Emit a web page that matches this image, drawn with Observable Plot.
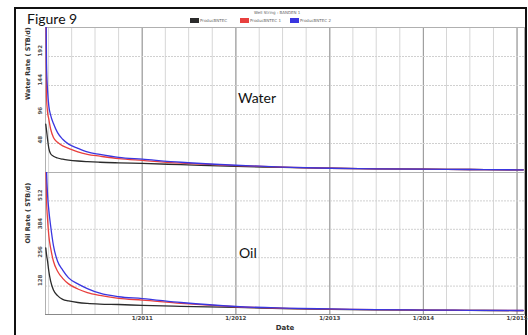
<!DOCTYPE html>
<html>
<head>
<meta charset="utf-8">
<script src="https://cdn.jsdelivr.net/npm/d3@7"></script>
<script src="https://cdn.jsdelivr.net/npm/@observablehq/plot@0.6"></script>
<style>
  html, body { margin: 0; padding: 0; background: #fff; }
  #wrap { position: relative; width: 528px; height: 335px; overflow: hidden; font-family: "DejaVu Sans", sans-serif; }
  #border { position: absolute; left: 14px; top: 7px; width: 509px; height: 340px; border: 2px solid #111; }
  .abs { position: absolute; white-space: nowrap; }
  .panel { position: absolute; left: 0; width: 528px; }
  .panel svg { display: block; }
  .big { font-family: Lato, "Open Sans", sans-serif; font-size: 14px; color: #111; }
  .legend { font-size: 4px; color: #666; }
  .sw { display: inline-block; width: 9px; height: 5px; vertical-align: middle; margin-right: 1px; }
</style>
</head>
<body>
<div id="wrap">
  <div id="border"></div>
  <div id="top" class="panel" style="top:0"></div>
  <div id="bottom" class="panel" style="top:172px"></div>
</div>
<script>
// Simulated decline: report dates and rates for three runs
const dates = ["2009-12-21", "2009-12-24", "2009-12-28", "2010-01-02", "2010-01-09", "2010-01-20",
  "2010-02-05", "2010-02-25", "2010-03-20", "2010-04-25", "2010-06-01", "2010-07-20", "2010-10-01",
  "2011-01-01", "2011-06-01", "2012-01-01", "2012-07-01", "2013-01-01", "2013-07-01", "2014-01-01",
  "2014-07-01", "2015-01-01", "2015-01-25"];

const seriesNames = ["ProducBNTEC", "ProducBNTEC 1", "ProducBNTEC 2"];
const seriesColors = ["#2b2b2b", "#e8403e", "#3a36e0"];

// Water rate (STB/d)
const waterBlack = [80, 70, 55, 40, 31, 27, 24, 22, 20.5, 19, 18, 17, 16, 15, 13, 10, 8.5, 7, 6, 5.5, 5, 4.5, 4.5];
const waterRed   = [300, 125, 100, 88, 72, 58, 50, 44, 40, 34, 30, 27, 23, 20, 15.5, 11.5, 9, 7, 6, 5.5, 5, 4.5, 4.5];
const waterBlue  = [320, 180, 136, 110, 95, 81, 66, 55, 47, 40, 34, 30, 25, 22, 17, 12, 9, 7, 6, 5.5, 5, 4.5, 4.5];

// Oil rate (STB/d)
const oilBlack = [300, 270, 240, 195, 150, 110, 85, 68, 61, 54, 50, 47, 45, 41, 37, 32, 27, 23, 21, 19.5, 18.5, 17.5, 17.5];
const oilRed   = [700, 520, 430, 355, 300, 240, 195, 163, 138, 115, 99, 86, 73, 65, 50, 35, 28, 24, 22, 20, 19, 18, 18];
const oilBlue  = [820, 650, 540, 470, 400, 310, 240, 200, 165, 138, 117, 96, 80, 72, 54, 36, 29, 25, 22, 20, 19, 18, 18];

const waterTicks = [48, 96, 144, 192];
const oilTicks = [128, 256, 384, 512];
const yearTicks = ["2011-01-01", "2012-01-01", "2013-01-01", "2014-01-01", "2015-01-01"];
const xDomain = ["2009-12-20", "2015-01-30"];

const parse = d3.utcParse("%Y-%m-%d");
const xDom = xDomain.map(parse);
const quarterLines = d3.utcMonth.every(3).range(xDom[0], xDom[1]);
const yearLines = yearTicks.map(parse);

const rows = (values) =>
  values.flatMap((vals, i) => vals.map((v, j) => ({date: parse(dates[j]), value: v, series: seriesNames[i]})));

function panel({data, yMax, ticks, label, height, marginTop, marginBottom, showX}) {
  const marks = [
    Plot.ruleX(quarterLines, {x: d => d, stroke: "#d6d6d6", strokeWidth: 1}),
    Plot.ruleX(yearLines, {x: d => d, stroke: "#a0a0a0", strokeWidth: 1.2}),
    Plot.ruleY(ticks, {y: d => d, stroke: "#d0d0d0", strokeDasharray: "2,1", strokeWidth: 1}),
    Plot.frame({stroke: "#b0b0b0", strokeWidth: 1}),
    Plot.line(data, {x: "date", y: "value", z: "series", stroke: "series", strokeWidth: 1.3, clip: true, curve: "monotone-x"}),
    Plot.text(ticks, {y: d => d, text: d => String(d), frameAnchor: "left", dx: -5, rotate: -90,
      fontSize: 5.5, fontWeight: "bold", fill: "#555"}),
    Plot.text([label], {text: d => d, frameAnchor: "left", dx: -18, rotate: -90, fontSize: 6.5, fontWeight: "bold", fill: "#333"})
  ];
  if (showX) {
    marks.push(Plot.text(yearLines, {x: d => d, text: d => `1/${d.getUTCFullYear()}`, frameAnchor: "bottom",
      dy: 5, fontSize: 5.5, fontWeight: "bold", fill: "#444"}));
    marks.push(Plot.text(["Date"], {text: d => d, frameAnchor: "bottom", dy: 15, fontSize: 7, fontWeight: "bold", fill: "#333"}));
    marks.push(Plot.ruleY([0], {stroke: "#888"}));
  }
  return Plot.plot({
    width: 528, height, marginLeft: 45, marginRight: 4, marginTop, marginBottom,
    style: {background: "transparent", fontFamily: "'DejaVu Sans', sans-serif", overflow: "visible"},
    x: {type: "utc", domain: xDom, axis: null},
    y: {domain: [0, yMax], axis: null},
    color: {domain: seriesNames, range: seriesColors},
    marks
  });
}

document.getElementById("top").appendChild(panel({
  data: rows([waterBlack, waterRed, waterBlue]), yMax: 240, ticks: waterTicks,
  label: "Water Rate ( STB/d)", height: 172, marginTop: 27, marginBottom: 0, showX: false
}));
document.getElementById("bottom").appendChild(panel({
  data: rows([oilBlack, oilRed, oilBlue]), yMax: 640, ticks: oilTicks,
  label: "Oil Rate ( STB/d)", height: 163, marginTop: 0, marginBottom: 21, showX: true
}));

// Title, legend and panel annotations
const wrap = document.getElementById("wrap");
function addDiv(cls, style, html) {
  const d = document.createElement("div");
  d.className = "abs " + cls;
  d.setAttribute("style", style);
  d.innerHTML = html;
  wrap.appendChild(d);
}
addDiv("big", "left:27px;top:10px;", "Figure 9");
addDiv("big", "left:238px;top:89px;", "Water");
addDiv("big", "left:239px;top:244px;", "Oil");
addDiv("legend", "left:254px;top:10px;", "Well String : BANDEN 1");
const legendX = [190, 240, 290];
seriesNames.forEach((n, i) => {
  addDiv("legend", `left:${legendX[i]}px;top:18px;`, `<span class="sw" style="background:${seriesColors[i]}"></span>${n}`);
});
</script>
</body>
</html>
